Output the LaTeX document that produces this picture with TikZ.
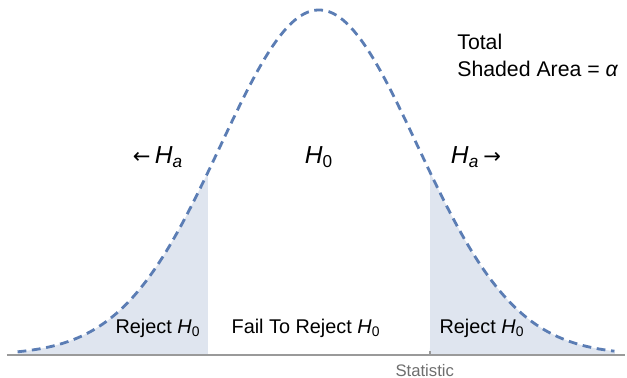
\documentclass[tikz,border=0pt]{standalone}
\usepackage{fontspec}
\setmainfont{Liberation Sans}
\newfontfamily\arrowfont{DejaVu Sans}
\usepackage{xcolor}
\usetikzlibrary{positioning}
\definecolor{curveblue}{HTML}{5B7DB4}
\definecolor{shadeblue}{HTML}{DFE5EF}
\definecolor{axisgray}{HTML}{9A9A9A}
\definecolor{labelgray}{HTML}{6E6E6E}
\newcommand{\hyp}[1]{\textit{H}\textsubscript{#1}}

\begin{document}
\begin{tikzpicture}[x=0.02cm, y=0.02cm,
    lbl/.style={inner sep=0pt, font=\fontsize{11.3}{14}\selectfont},
    hlbl/.style={inner sep=0pt, font=\fontsize{14}{17}\selectfont},
    tail/.style={fill=shadeblue, draw=none},
    bell/.style={draw=curveblue, line width=1.6pt, dash pattern=on 5pt off 3.2pt},
    axisline/.style={draw=axisgray, line width=1pt}]
        \useasboundingbox (0,0) rectangle (627,378);

        % Shaded tails
        \fill[tail] (18,23) -- plot[domain=-3.06:-1.127, samples=60] ({319+98.5*\x},{23+345*exp(-\x*\x/2)}) -- (208,23) -- cycle;
        \fill[tail] (430,23) -- plot[domain=1.127:3.0, samples=60] ({319+98.5*\x},{23+345*exp(-\x*\x/2)}) -- (615,23) -- cycle;

        % Axis and tick
        \coordinate (A0) at (7,23);
        \coordinate (A1) at (625,23);
        \coordinate (T) at (430,23);
        \draw[axisline] (A0) -- (A1);
        \draw[axisline, line width=0.6pt] (T) -- ++(0,4);

        % Density curve
        \draw[bell] plot[domain=-3.06:3.0, samples=120, smooth] ({319+98.5*\x},{23+345*exp(-\x*\x/2)});

        % Hypotheses
        \node[hlbl] (Hleft) at (158,221) {{\arrowfont\fontsize{12}{14}\selectfont ←}\,\hyp{\textit{a}}};
        \node[hlbl] (Hnull) at (319,221) {\hyp{0}};
        \node[hlbl] (Hright) at (476,221) {\hyp{\textit{a}}\,{\arrowfont\fontsize{12}{14}\selectfont →}};

        % Regions
        \node[lbl] (RejL) at (158,50) {Reject \hyp{0}};
        \node[lbl] (Fail) at (306,50) {Fail To Reject \hyp{0}};
        \node[lbl] (RejR) at (482,50) {Reject \hyp{0}};

        % Total area note
        \node[lbl, font=\fontsize{12.1}{14.5}\selectfont, anchor=west] (Total) at (457,336) {Total};
        \node[lbl, font=\fontsize{12.1}{14.5}\selectfont, below=6pt of Total.south west, anchor=north west] (Area) {Shaded Area = \textit{α}};

        \node[inner sep=0pt, text=labelgray, font=\fontsize{9.5}{11}\selectfont, below=5pt of T, xshift=-3] (Stat) {Statistic};
    \end{tikzpicture}
\end{document}
